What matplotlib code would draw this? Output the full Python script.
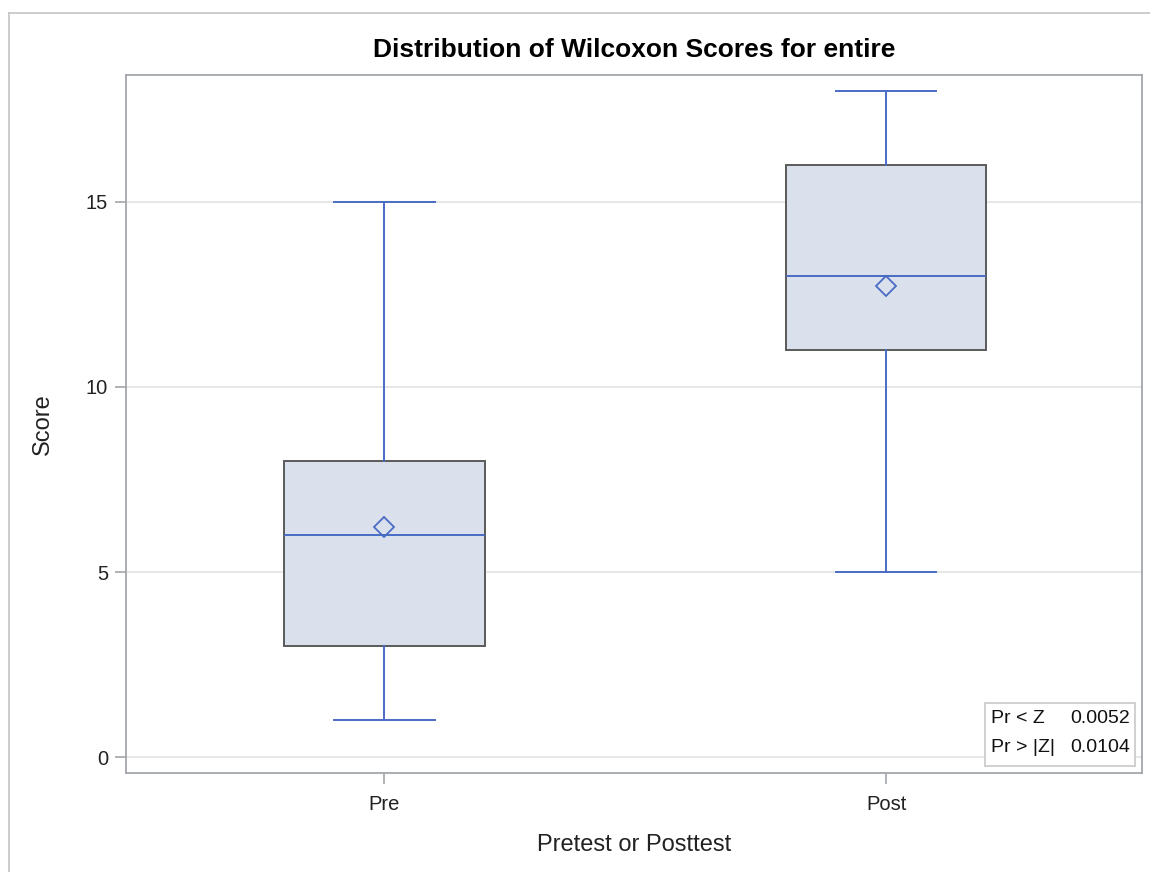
import matplotlib
matplotlib.use("Agg")
import matplotlib.pyplot as plt
from matplotlib.lines import Line2D
from matplotlib.patches import Rectangle

plt.rcParams['font.family'] = ['Liberation Sans', 'DejaVu Sans']

categories = ["Pre", "Post"]
whisker_low = [1, 5]
q1 = [3, 11]
median = [6, 13]
q3 = [8, 16]
whisker_high = [15, 18]
means = [6.22, 12.73]
y_ticks = [0, 5, 10, 15]
stat_labels = ["Pr < Z", "Pr > |Z|"]
stat_values = ["0.0052", "0.0104"]

W, H = 1150, 872
fig = plt.figure(figsize=(W / 100, H / 100), dpi=100)
ax = fig.add_axes([126 / W, 1 - 773 / H, (1142 - 126) / W, (773 - 75) / H])

blue = "#4A6BC4"
stats = []
for i, c in enumerate(categories):
    stats.append(dict(label=c, whislo=whisker_low[i], q1=q1[i], med=median[i],
                      q3=q3[i], whishi=whisker_high[i], mean=means[i], fliers=[]))

ax.bxp(stats, positions=range(len(categories)), widths=0.4, patch_artist=True,
       showmeans=True, showfliers=False,
       boxprops=dict(facecolor="#DAE1EC", edgecolor="#5A5A5A", linewidth=1.4),
       medianprops=dict(color=blue, linewidth=1.4),
       whiskerprops=dict(color=blue, linewidth=1.4),
       capprops=dict(color=blue, linewidth=1.4),
       capwidths=0.2,
       meanprops=dict(marker="D", markerfacecolor="none", markeredgecolor=blue,
                      markersize=10, markeredgewidth=1.3),
       zorder=3)

ax.set_xlim(-0.515, 1.51)
ax.set_ylim(-0.43, 18.43)
ax.set_yticks(y_ticks)
ax.set_xticks(range(len(categories)))
ax.set_xticklabels(categories)
ax.yaxis.grid(True, color="#E3E3E3", linewidth=1.2, zorder=0)
ax.set_axisbelow(True)
for s in ax.spines.values():
    s.set_color("#A2A6AA")
    s.set_linewidth(1.3)
ax.tick_params(axis="both", colors="#A2A6AA", labelcolor="#222222", labelsize=14.5,
               length=8, width=1.2, pad=5)
ax.tick_params(axis="x", pad=8)
ax.set_xlabel("Pretest or Posttest", fontsize=17, color="#222222", labelpad=14)
ax.set_ylabel("Score", fontsize=17, color="#222222", labelpad=23)
ax.set_title("Distribution of Wilcoxon Scores for entire", fontsize=19, fontweight="bold",
             pad=13, color="#000000")

# inset statistics box
bx0, by0 = (985 - 126) / 1016, (773 - 766) / 698
bw, bh = (1135 - 985) / 1016, (766 - 703) / 698
ax.add_patch(Rectangle((bx0, by0), bw, bh, transform=ax.transAxes, facecolor="white",
                       edgecolor="#C8C8C8", linewidth=1.2, zorder=5))
rows_y = [0.76, 0.29]
for lab, val, ry in zip(stat_labels, stat_values, rows_y):
    yy = by0 + bh * ry
    ax.text(bx0 + 0.006, yy, lab, transform=ax.transAxes, fontsize=14, va="center",
            ha="left", zorder=6, color="#111111")
    ax.text(bx0 + bw - 0.005, yy, val, transform=ax.transAxes, fontsize=14, va="center",
            ha="right", zorder=6, color="#111111")

# outer frame lines
fig.add_artist(Line2D([8.5 / W, 8.5 / W], [0, 1 - 13.5 / H], transform=fig.transFigure,
                      color="#C8C8C8", linewidth=1.3))
fig.add_artist(Line2D([8.5 / W, 1], [1 - 13.5 / H, 1 - 13.5 / H], transform=fig.transFigure,
                      color="#C8C8C8", linewidth=1.3))

fig.savefig("out.png", dpi=100)
